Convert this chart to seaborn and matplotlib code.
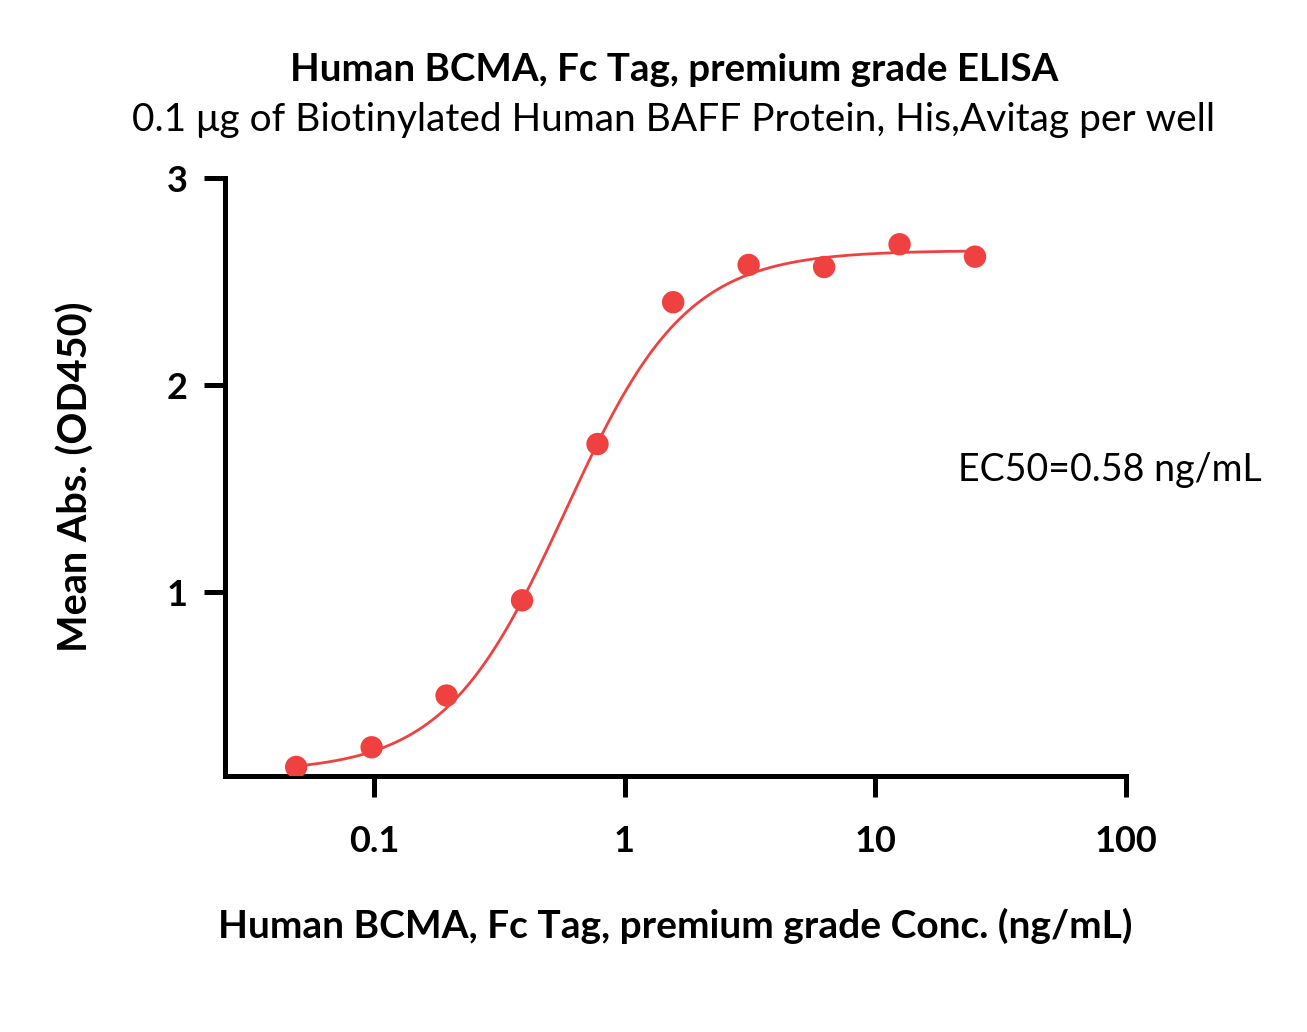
import numpy as np
import pandas as pd
import matplotlib
matplotlib.use("Agg")
import matplotlib.pyplot as plt
import seaborn as sns

# measured points (ng/mL vs OD450)
conc = [0.049, 0.098, 0.195, 0.39, 0.78, 1.5625, 3.125, 6.25, 12.5, 25.0]
od450 = [0.155, 0.25, 0.50, 0.96, 1.715, 2.40, 2.58, 2.57, 2.68, 2.62]

# 4PL fit parameters
bottom, top, ec50, hill = 0.13, 2.65, 0.58, 1.8

red = "#F04141"

sns.set_theme(style="white")
plt.rcParams["font.family"] = ["Lato", "DejaVu Sans"]
plt.rcParams["text.color"] = "black"
plt.rcParams["axes.labelcolor"] = "black"
plt.rcParams["xtick.color"] = "black"
plt.rcParams["ytick.color"] = "black"

df = pd.DataFrame({"conc": conc, "od": od450})
xfit = np.logspace(np.log10(conc[0]), np.log10(conc[-1]), 300)
fit = pd.DataFrame({"conc": xfit,
                    "od": bottom + (top - bottom) / (1 + (ec50 / xfit) ** hill)})

fig = plt.figure(figsize=(13.07, 10.32), dpi=100)
ax = fig.add_axes([0.1722, 0.248, 0.6893, 0.5795])

sns.lineplot(data=fit, x="conc", y="od", color=red, linewidth=2, ax=ax)
sns.scatterplot(data=df, x="conc", y="od", color=red, s=260, edgecolor="none", ax=ax, zorder=3)

ax.set_xscale("log")
ax.set_xlim(0.0255, 100)
ax.set_ylim(0.111, 3)
ax.set_xticks([0.1, 1, 10, 100])
ax.set_xticklabels(["0.1", "1", "10", "100"])
ax.set_yticks([1, 2, 3])
ax.set_yticklabels(["1", "2", "3"])
ax.xaxis.set_minor_locator(matplotlib.ticker.NullLocator())

for s in ["top", "right"]:
    ax.spines[s].set_visible(False)
for s in ["left", "bottom"]:
    ax.spines[s].set_linewidth(3.6)
    ax.spines[s].set_color("black")

ax.tick_params(axis="both", which="major", length=15, width=3.6, color="black",
               labelsize=26, direction="out", bottom=True, left=True)
ax.tick_params(axis="x", pad=20)
ax.tick_params(axis="y", pad=12)
for lab in ax.get_xticklabels() + ax.get_yticklabels():
    lab.set_fontweight("bold")

ax.set_xlabel("Human BCMA, Fc Tag, premium grade Conc. (ng/mL)", fontsize=28,
              fontweight="bold", labelpad=36)
ax.set_ylabel("Mean Abs. (OD450)", fontsize=28.5, fontweight="bold", labelpad=52)

fig.text(0.5155, 0.932, "Human BCMA, Fc Tag, premium grade ELISA", ha="center",
         va="center", fontsize=27.7, fontweight="bold")
fig.text(0.5153, 0.884, "0.1 μg of Biotinylated Human BAFF Protein, His,Avitag per well",
         ha="center", va="center", fontsize=28)
fig.text(0.733, 0.5446, "EC50=0.58 ng/mL", ha="left", va="center", fontsize=27)

fig.savefig("out.png", dpi=100)
